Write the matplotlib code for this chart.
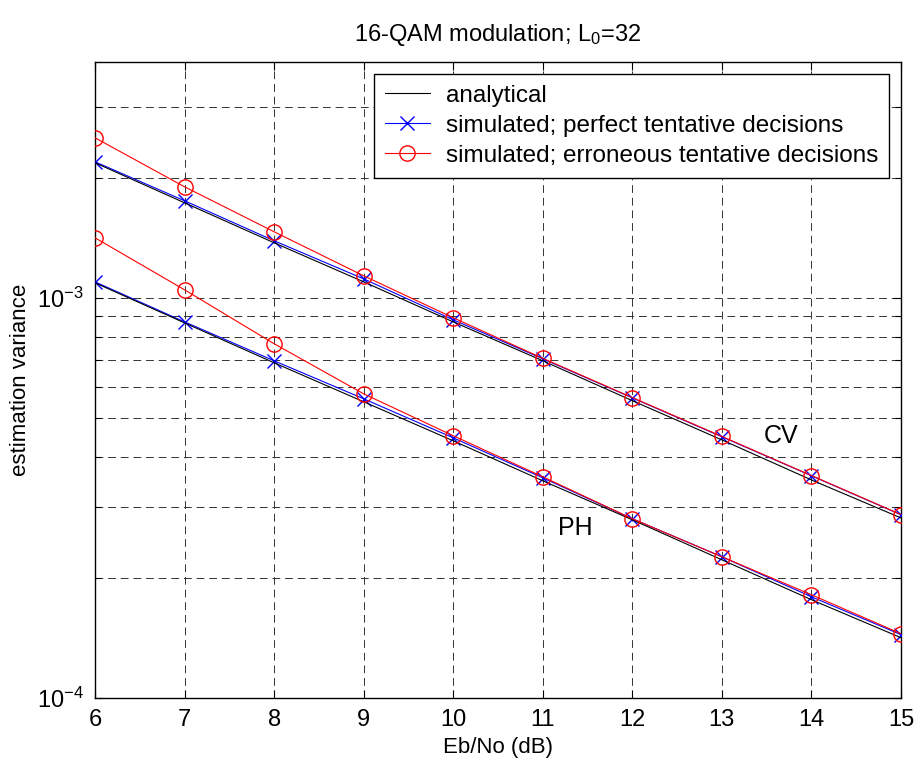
import matplotlib
matplotlib.use("Agg")
import matplotlib.pyplot as plt
import numpy as np
from matplotlib.ticker import LogLocator, NullFormatter, FixedLocator, FixedFormatter

plt.rcParams['font.family'] = ['Liberation Sans', 'DejaVu Sans']
plt.rcParams['mathtext.fontset'] = 'custom'
plt.rcParams['mathtext.rm'] = 'Liberation Sans'
plt.rcParams['mathtext.it'] = 'Liberation Sans'
plt.rcParams['mathtext.default'] = 'regular'

# Eb/No values (dB)
ebno = [6, 7, 8, 9, 10, 11, 12, 13, 14, 15]

# CV estimator variance
cv_analytical = [2.18e-3, 1.731e-3, 1.375e-3, 1.098e-3, 0.872e-3, 0.697e-3, 0.554e-3, 0.442e-3, 0.351e-3, 0.282e-3]
cv_perfect = [2.192e-3, 1.751e-3, 1.391e-3, 1.117e-3, 0.8825e-3, 0.705e-3, 0.563e-3, 0.450e-3, 0.3595e-3, 0.2872e-3]
cv_erroneous = [2.517e-3, 1.898e-3, 1.465e-3, 1.137e-3, 0.893e-3, 0.707e-3, 0.564e-3, 0.451e-3, 0.3600e-3, 0.2875e-3]

# PH estimator variance
ph_analytical = [1.092e-3, 0.867e-3, 0.689e-3, 0.5505e-3, 0.4397e-3, 0.3493e-3, 0.279e-3, 0.2216e-3, 0.1761e-3, 0.1415e-3]
ph_perfect = [1.098e-3, 0.872e-3, 0.697e-3, 0.560e-3, 0.4473e-3, 0.3553e-3, 0.2807e-3, 0.2255e-3, 0.1791e-3, 0.1440e-3]
ph_erroneous = [1.415e-3, 1.049e-3, 0.769e-3, 0.5763e-3, 0.4527e-3, 0.3574e-3, 0.2807e-3, 0.2255e-3, 0.1812e-3, 0.1448e-3]

fig = plt.figure(figsize=(9.16, 7.62), dpi=100)
ax = fig.add_axes([0.1037, 0.0840, 0.8799, 0.8350])

fs = 16
lw = 0.8

ax.plot(ebno, cv_perfect, color="blue", lw=lw, marker="x", ms=10, mew=1.0,
        label="simulated; perfect tentative decisions", zorder=3)
ax.plot(ebno, ph_perfect, color="blue", lw=lw, marker="x", ms=10, mew=1.0, zorder=3)
ax.plot(ebno, cv_analytical, color="black", lw=lw, label="analytical", zorder=4)
ax.plot(ebno, ph_analytical, color="black", lw=lw, zorder=4)
ax.plot(ebno, cv_erroneous, color="red", lw=lw, marker="o", ms=11, mfc="none", mew=1.0,
        label="simulated; erroneous tentative decisions", zorder=5)
ax.plot(ebno, ph_erroneous, color="red", lw=lw, marker="o", ms=11, mfc="none", mew=1.0, zorder=5)

ax.set_yscale("log")
ax.set_xlim(6, 15)
ax.set_ylim(1e-4, 3.9e-3)

ax.xaxis.set_major_locator(FixedLocator(ebno))
ax.yaxis.set_major_locator(FixedLocator([1e-4, 1e-3]))
ax.yaxis.set_major_formatter(FixedFormatter([r"$10^{-4}$", r"$10^{-3}$"]))
ax.yaxis.set_minor_locator(LogLocator(base=10, subs=np.arange(2, 10)))
ax.yaxis.set_minor_formatter(NullFormatter())

ax.tick_params(which="both", direction="in", top=True, right=True, labelsize=17,
               width=0.8, color="black")
ax.tick_params(which="major", length=6, pad=8)
ax.tick_params(which="minor", length=4)

grid_style = dict(color="#333333", linestyle=(0, (8, 5)), linewidth=0.7)
ax.grid(True, which="major", axis="both", **grid_style)
ax.grid(True, which="minor", axis="y", **grid_style)
ax.set_axisbelow(True)
for s in ax.spines.values():
    s.set_linewidth(1.0)

ax.set_xlabel("Eb/No (dB)", fontsize=fs, labelpad=4)
ax.set_ylabel("estimation variance", fontsize=fs, labelpad=4)
ax.set_title("16-QAM modulation; L$_0$=32", fontsize=17, pad=15)

ax.text(13.47, 0.4508e-3, "CV", fontsize=18, va="center", ha="left")
ax.text(11.17, 0.2667e-3, "PH", fontsize=18, va="center", ha="left")

handles, labels = ax.get_legend_handles_labels()
order = [1, 0, 2]
leg = ax.legend([handles[i] for i in order], [labels[i] for i in order],
                loc="upper right", fontsize=17.5, fancybox=False, framealpha=1,
                edgecolor="black", borderaxespad=0.5, handlelength=1.85,
                handletextpad=0.65, labelspacing=0.33, borderpad=0.45)
leg.get_frame().set_linewidth(1.0)

fig.savefig("out.png", dpi=100)
